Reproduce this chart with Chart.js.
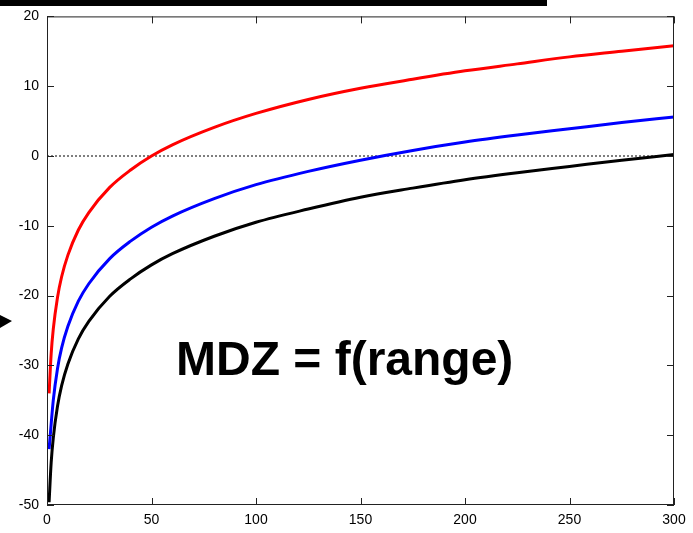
<!DOCTYPE html>
<html>
<head>
<meta charset="utf-8">
<style>
  body { margin: 0; background: #fff; }
  #wrap { position: relative; width: 693px; height: 533px; }
</style>
<script src="https://cdn.jsdelivr.net/npm/chart.js@4/dist/chart.umd.min.js"></script>
</head>
<body>
<div id="wrap"><canvas id="mdz" width="693" height="533"></canvas></div>
<script>
// ===== Data =====
const ranges = [1, 2, 3, 5, 7, 10, 15, 20, 30, 40, 50, 60, 80, 100, 125, 150, 175, 200, 225, 250, 275, 300];
const redVals = [-34.0, -28.3, -24.8, -20.3, -17.3, -14.2, -10.6, -8.1, -4.5, -2.0, 0.0, 1.6, 4.1, 6.1, 8.1, 9.7, 11.0, 12.2, 13.2, 14.2, 15.0, 15.8];
const blueVals = [-42.0, -38.4, -35.0, -30.5, -27.5, -24.4, -20.8, -18.3, -14.7, -12.2, -10.2, -8.6, -6.1, -4.1, -2.2, -0.6, 0.8, 2.0, 3.0, 3.9, 4.8, 5.6];
const blackVals = [-49.6, -43.9, -40.4, -35.9, -32.9, -29.8, -26.2, -23.7, -20.1, -17.6, -15.6, -14.0, -11.5, -9.5, -7.6, -5.9, -4.6, -3.4, -2.4, -1.5, -0.6, 0.2];
const xTicks = [0, 50, 100, 150, 200, 250, 300];
const yTicks = [-50, -40, -30, -20, -10, 0, 10, 20];
const zeroLine = [{ x: 0, y: 0 }, { x: 300, y: 0 }];

const toPoints = vals => ranges.map((r, i) => ({ x: r, y: vals[i] }));

// ===== Box, inward ticks and slide decorations =====
const boxPlugin = {
  id: "box",
  afterDatasetsDraw(chart) {
    const { ctx, chartArea: a, scales } = chart;
    ctx.save();
    ctx.strokeStyle = "#222";
    ctx.lineWidth = 1;
    ctx.strokeRect(a.left + 0.5, a.top + 0.5, a.right - a.left - 1, a.bottom - a.top - 1);
    ctx.beginPath();
    xTicks.forEach(v => {
      const px = Math.round(scales.x.getPixelForValue(v)) + 0.5;
      ctx.moveTo(px, a.bottom); ctx.lineTo(px, a.bottom - 7);
      ctx.moveTo(px, a.top); ctx.lineTo(px, a.top + 7);
    });
    yTicks.forEach(v => {
      const py = Math.round(scales.y.getPixelForValue(v)) + 0.5;
      ctx.moveTo(a.left, py); ctx.lineTo(a.left + 7, py);
      ctx.moveTo(a.right, py); ctx.lineTo(a.right - 7, py);
    });
    ctx.stroke();

    // slide leftovers: bar at top, arrow head at left
    ctx.fillStyle = "#000";
    ctx.fillRect(0, 0, 547, 6);
    ctx.beginPath();
    ctx.moveTo(0, 315); ctx.lineTo(12, 321); ctx.lineTo(0, 328);
    ctx.closePath();
    ctx.fill();

    // caption
    ctx.font = "bold 48px 'Liberation Sans', Arial, sans-serif";
    ctx.textBaseline = "alphabetic";
    ctx.fillText("MDZ = f(range)", 176, 375);
    ctx.restore();
  }
};

const tickFont = { family: "'Liberation Sans', Arial, sans-serif", size: 14 };

new Chart(document.getElementById("mdz"), {
  type: "line",
  data: {
    datasets: [
      { data: toPoints(redVals), borderColor: "#ff0000", borderWidth: 3, pointRadius: 0, cubicInterpolationMode: "monotone", order: 1 },
      { data: toPoints(blueVals), borderColor: "#0000ff", borderWidth: 3, pointRadius: 0, cubicInterpolationMode: "monotone", order: 2 },
      { data: toPoints(blackVals), borderColor: "#000000", borderWidth: 3, pointRadius: 0, cubicInterpolationMode: "monotone", order: 3 },
      { data: zeroLine, borderColor: "#000000", borderWidth: 1, borderDash: [2, 2], pointRadius: 0, order: 10 }
    ]
  },
  options: {
    responsive: false,
    animation: false,
    devicePixelRatio: 1,
    layout: { padding: { top: 15, right: 19, left: 0, bottom: 0 } },
    plugins: { legend: { display: false }, tooltip: { enabled: false } },
    scales: {
      x: {
        type: "linear", min: 0, max: 300,
        afterFit: s => { s.height = 28; },
        afterBuildTicks: s => { s.ticks = xTicks.map(v => ({ value: v })); },
        grid: { display: false, drawTicks: false },
        border: { display: false },
        ticks: { color: "#000", font: tickFont, padding: 7, maxRotation: 0 }
      },
      y: {
        min: -50, max: 20,
        afterFit: s => { s.width = 47; },
        afterBuildTicks: s => { s.ticks = yTicks.map(v => ({ value: v })); },
        grid: { display: false, drawTicks: false },
        border: { display: false },
        ticks: { color: "#000", font: tickFont, padding: 8 }
      }
    }
  },
  plugins: [boxPlugin]
});
</script>
</body>
</html>
